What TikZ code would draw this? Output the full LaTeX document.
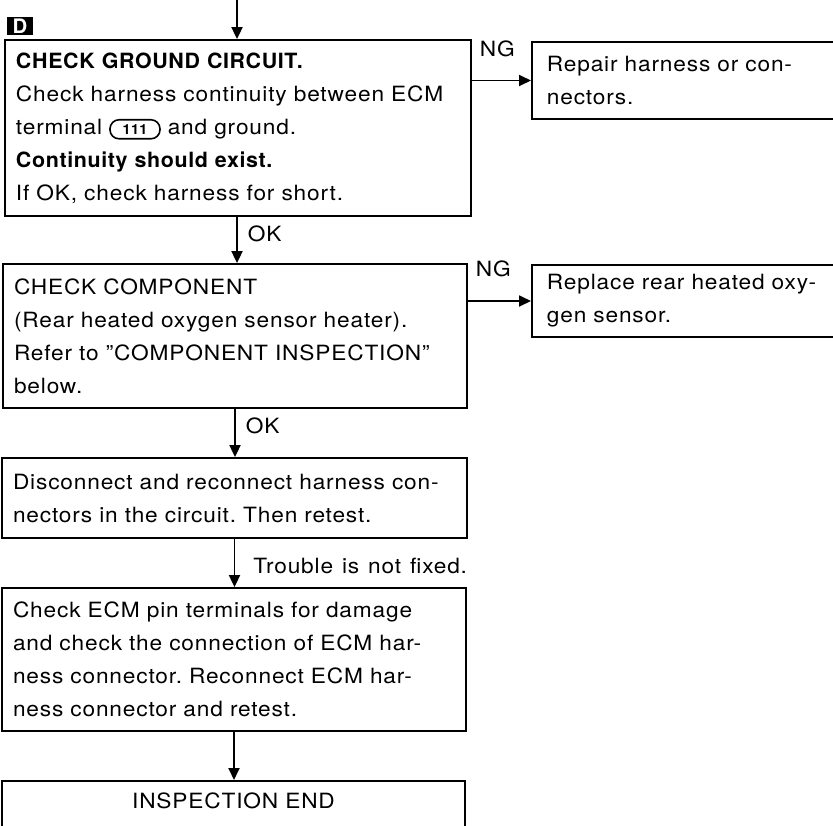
\documentclass[tikz,border=0pt]{standalone}
\usepackage{fontspec}
\setmainfont{TeX Gyre Heros}[FakeStretch=1.08,LetterSpace=4,WordSpace=1.25,
    BoldFeatures={FakeStretch=1.02,LetterSpace=3}]
\frenchspacing
\usetikzlibrary{arrows.meta}

\begin{document}
\begin{tikzpicture}[x=1pt,y=-1pt,
    box/.style={draw, line width=1.8pt, align=left, inner xsep=11pt, inner ysep=0pt,
        font=\fontsize{21}{33}\selectfont},
    sidebox/.style={box, anchor=west, inner xsep=15pt, minimum width=330pt, text width=300pt},
    arr/.style={line width=1.8pt, -{Triangle[length=12pt,width=11pt]}},
    lbl/.style={font=\fontsize{21}{24}\selectfont, inner sep=0pt, anchor=base west}]
    \newcommand{\tmnl}[1]{\tikz[baseline=(tm.base)]\node[draw, line width=1.6pt,
        rounded corners=9pt, minimum width=50pt, minimum height=19pt, inner sep=0pt,
        font=\fontsize{14}{14}\selectfont\bfseries] (tm) {#1};}
    \useasboundingbox (0,0) rectangle (833,825);
    \clip (0,0) rectangle (833,825);

    \node[fill=black, text=white, minimum width=26pt, minimum height=18pt, inner sep=0pt,
        font=\fontsize{20}{20}\selectfont\bfseries] (mark) at (20,26) {D};

    \node[box, minimum width=466pt, minimum height=176pt, text width=444pt] (gnd) at (238,128)
        {\textbf{CHECK GROUND CIRCUIT.}\\
         Check harness continuity between ECM\\
         terminal \tmnl{111} and ground.\\
         \textbf{Continuity should exist.}\\
         If OK, check harness for short.};
    \node[sidebox, minimum height=77pt] (rep) at (531,80.5)
        {Repair harness or con-\\nectors.};

    \node[box, minimum width=464pt, minimum height=144pt, text width=442pt] (comp) at (235,336)
        {CHECK COMPONENT\\
         (Rear heated oxygen sensor heater).\\
         Refer to ''COMPONENT INSPECTION''\\
         below.};
    \node[sidebox, minimum height=72pt] (repl) at (531,301)
        {Replace rear heated oxy-\\gen sensor.};

    \node[box, minimum width=465pt, minimum height=80pt, text width=443pt] (recon) at (234.5,498)
        {Disconnect and reconnect harness con-\\
         nectors in the circuit. Then retest.};

    \node[box, minimum width=464pt, minimum height=143pt, text width=442pt] (pins) at (234,659.5)
        {Check ECM pin terminals for damage\\
         and check the connection of ECM har-\\
         ness connector. Reconnect ECM har-\\
         ness connector and retest.};

    \node[box, anchor=north, align=center, minimum width=463pt, text width=441pt,
        inner ysep=12pt, text height=16pt, text depth=70pt] (done) at (233.5,780)
        {INSPECTION END};

    \coordinate (in) at (237,0);
    \draw[arr] (in) -- (in |- gnd.north);
    \draw[arr] (gnd.east |- rep.west) node[lbl, xshift=7pt, yshift=24pt] {NG} -- (rep.west);
    \draw[arr] (gnd.south -| in) node[lbl, xshift=10pt, yshift=-24.5pt] {OK} -- (in |- comp.north);
    \draw[arr] (comp.east |- repl.west) node[lbl, xshift=7pt, yshift=25pt] {NG} -- (repl.west);
    \draw[arr] (comp.south) node[lbl, xshift=10pt, yshift=-24.5pt] {OK} -- (comp.south |- recon.north);
    \draw[arr] (recon.south) node[lbl, xshift=18pt, yshift=-34.5pt] {Trouble is not fixed.} -- (recon.south |- pins.north);
    \draw[arr] (pins.south) -- (pins.south |- done.north);
\end{tikzpicture}
\end{document}
